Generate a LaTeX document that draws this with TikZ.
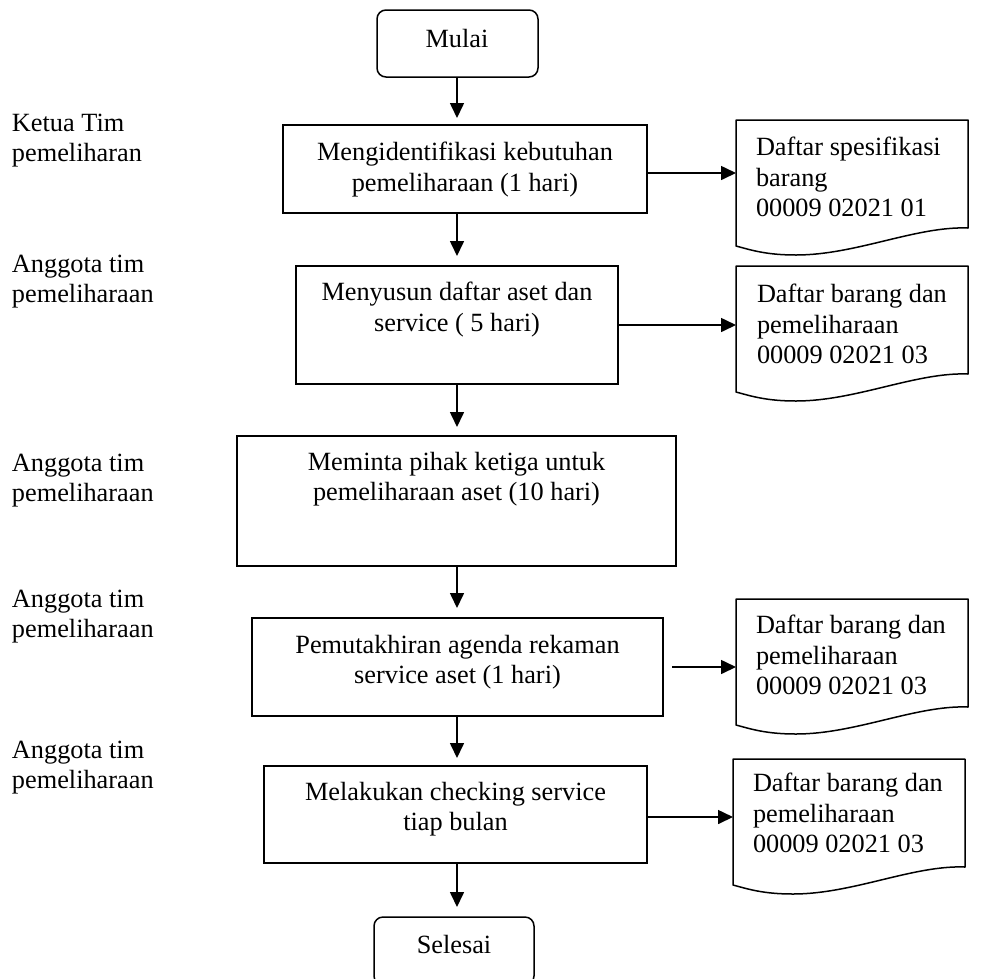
\documentclass[tikz,border=0pt]{standalone}
\usepackage{fontspec}
\setmainfont{Liberation Serif}
\usetikzlibrary{arrows.meta,calc}
\newcommand\docoutline[2]{%
  \begin{scope}[shift={(#1,#2)}]
    \draw[docline] (0,0) -- (232,0) -- (232,108)
      .. controls (180,106) and (120,135) .. (60,135)
      .. controls (30,135) and (15,130) .. (0,126) -- cycle;
  \end{scope}}
\begin{document}
\begin{tikzpicture}[x=1pt,y=-1pt,
  every node/.style={inner sep=0pt,outer sep=0pt,font=\fontsize{26.3}{30.5}\selectfont},
  terminal/.style={draw,line width=1.5pt,rounded corners=9pt},
  procbox/.style={draw,line width=1.5pt},
  boxtext/.style={anchor=north,align=center},
  doctext/.style={anchor=north west,align=left},
  lanetext/.style={anchor=north west,align=left},
  docarea/.style={anchor=north west,minimum width=232pt,minimum height=108pt},
  docline/.style={line width=1.5pt,line join=round},
  flow/.style={line width=1.6pt,-{Triangle[length=15pt,width=14pt]}},
]
\useasboundingbox (0,0) rectangle (993,978);

% axis of the vertical flow
\coordinate (axis) at (457,0);

% process boxes
\node[terminal,minimum width=161pt,minimum height=67pt] (b0) at (457.5,43.5) {};
\node[procbox,minimum width=364pt,minimum height=88pt] (b1) at (465,169) {};
\node[procbox,minimum width=322pt,minimum height=118pt] (b2) at (457,325) {};
\node[procbox,minimum width=439pt,minimum height=130pt] (b3) at (456.5,501) {};
\node[procbox,minimum width=411pt,minimum height=98pt] (b4) at (457.5,667) {};
\node[procbox,minimum width=383pt,minimum height=97pt] (b5) at (455.5,814.5) {};
\node[terminal,minimum width=160pt,minimum height=68pt] (b6) at (454,951) {};

% box texts
\node[anchor=base] (t0) at (457,47) {Mulai};
\node[boxtext] (t1) at (465,142) {Mengidentifikasi kebutuhan\\pemeliharaan (1 hari)};
\node[boxtext] (t2) at (457,282) {Menyusun daftar aset dan\\service ( 5 hari)};
\node[boxtext] (t3) at (456.5,452) {Meminta pihak ketiga untuk\\pemeliharaan aset (10 hari)};
\node[boxtext] (t4) at (457.5,635) {Pemutakhiran agenda rekaman\\service aset (1 hari)};
\node[boxtext] (t5) at (455.5,782) {Melakukan checking service\\tiap bulan};
\node[anchor=base] (t6) at (454,953) {Selesai};

% documents
\docoutline{736}{120}
\docoutline{736}{266}
\docoutline{736}{599}
\docoutline{733}{759}
\node[docarea] (d1) at (736,120) {};
\node[docarea] (d2) at (736,266) {};
\node[docarea] (d3) at (736,599) {};
\node[docarea] (d4) at (733,759) {};
\node[doctext] (dt1) at (756,137) {Daftar spesifikasi\\barang\\00009 02021 01};
\node[doctext] (dt2) at (757,284) {Daftar barang dan\\pemeliharaan\\00009 02021 03};
\node[doctext] (dt3) at (756,615) {Daftar barang dan\\pemeliharaan\\00009 02021 03};
\node[doctext] (dt4) at (753,773) {Daftar barang dan\\pemeliharaan\\00009 02021 03};

% lane labels
\node[lanetext] (l1) at (12,114) {Ketua Tim\\pemeliharan};
\node[lanetext] (l2) at (12,255) {Anggota tim\\pemeliharaan};
\node[lanetext] (l3) at (12,454) {Anggota tim\\pemeliharaan};
\node[lanetext] (l4) at (12,590) {Anggota tim\\pemeliharaan};
\node[lanetext] (l5) at (12,741) {Anggota tim\\pemeliharaan};

% vertical flow
\draw[flow,shorten >=7pt] (b0.south -| axis) -- (b1.north -| axis);
\draw[flow,shorten >=10pt] (b1.south -| axis) -- (b2.north -| axis);
\draw[flow,shorten >=9pt] (b2.south -| axis) -- (b3.north -| axis);
\draw[flow,shorten >=10pt] (b3.south -| axis) -- (b4.north -| axis);
\draw[flow,shorten >=8pt] (b4.south -| axis) -- (b5.north -| axis);
\draw[flow,shorten >=10pt] (b5.south -| axis) -- (b6.north -| axis);

% outputs to documents
\draw[flow] ([yshift=-4pt]b1.east) -- ([yshift=-4pt]b1.east -| d1.west);
\draw[flow] (b2.east) -- (b2.east -| d2.west);
\draw[flow,shorten <=9pt] (b4.east) -- (b4.east -| d3.west);
\draw[flow] ([yshift=-2.5pt]b5.east) -- ([yshift=-2.5pt]b5.east -| d4.west);
\end{tikzpicture}
\end{document}
